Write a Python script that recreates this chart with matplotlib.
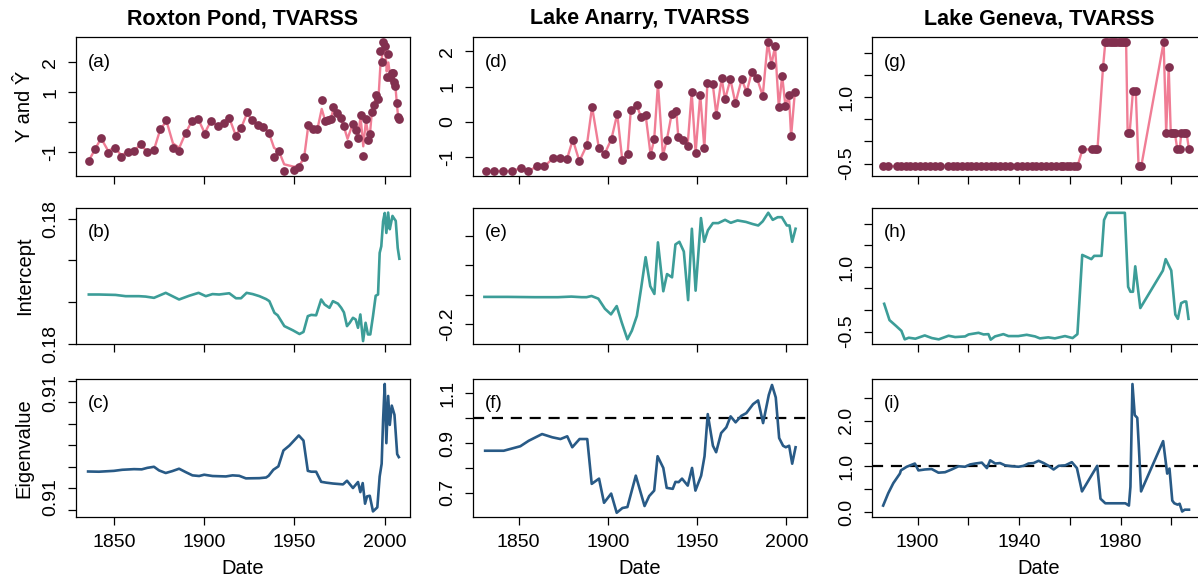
import matplotlib
matplotlib.use('Agg')
import matplotlib.pyplot as plt

plt.rcParams['font.family'] = ['Liberation Sans', 'DejaVu Sans']

PINK = '#f07d95'
MAROON = '#82304f'
TEAL = '#3c9d98'
BLUE = '#285a86'

# ---------------- Roxton Pond ----------------
roxton_years = [1836.1, 1839.6, 1842.9, 1846.8, 1850.4, 1854.1, 1857.6, 1861.1, 1864.9, 1868.4,
                1872.1, 1875.6, 1879.1, 1882.7, 1886.2, 1889.7, 1893.3, 1896.8, 1900.3, 1903.8,
                1907.4, 1910.7, 1914.0, 1917.4, 1920.4, 1923.7, 1926.5, 1929.6, 1932.8, 1935.8,
                1938.7, 1941.3, 1944.3, 1949.7, 1952.5, 1955.3, 1957.7, 1960.1, 1962.7, 1965.1,
                1967.0, 1968.6, 1970.1, 1971.6, 1973.8, 1975.7, 1977.3, 1979.4, 1982.2, 1984.0,
                1985.3, 1986.6, 1988.1, 1989.6, 1990.7, 1991.8, 1992.9, 1994.1, 1995.2, 1996.5,
                1997.6, 1998.5, 1999.3, 2000.4, 2001.1, 2002.0, 2003.0, 2003.9, 2004.8, 2005.2,
                2005.9, 2006.7, 2007.4, 2008.0]
roxton_y = [-1.28, -0.89, -0.53, -1.02, -0.84, -1.14, -0.98, -0.94, -0.72, -1.00,
            -0.93, -0.23, 0.08, -0.84, -0.96, -0.36, 0.06, 0.11, -0.39, 0.06,
            -0.11, -0.02, 0.14, -0.44, -0.20, 0.33, 0.08, -0.09, -0.14, -0.34,
            -1.14, -0.96, -1.62, -1.59, -1.48, -1.17, -0.09, -0.23, -0.23, 0.75,
            0.06, 0.08, 0.10, 0.52, 0.30, 0.14, -0.13, -0.72, -0.06, -0.25,
            -0.53, 0.23, -1.12, 0.10, -0.59, -0.40, 0.36, 0.59, 0.91, 0.77,
            2.37, 2.00, 2.67, 2.56, 1.52, 2.29, 1.52, 1.64, 1.64, 1.36,
            1.22, 0.64, 0.19, 0.11]
roxton_yhat = [-1.28, -0.89, -0.53, -0.95, -0.84, -1.10, -0.98, -0.94, -0.74, -0.98,
               -0.93, -0.25, 0.05, -0.70, -0.85, -0.36, 0.06, 0.10, -0.36, 0.06,
               -0.11, -0.02, 0.13, -0.42, -0.20, 0.30, 0.08, -0.09, -0.14, -0.34,
               -0.85, -0.95, -1.40, -1.48, -1.45, -1.20, -0.09, -0.23, -0.23, 0.45,
               0.06, 0.08, 0.10, 0.45, 0.30, 0.14, -0.13, -0.55, -0.06, -0.25,
               -0.45, 0.20, -0.80, 0.05, -0.35, -0.40, 0.36, 0.59, 0.91, 0.77,
               1.90, 2.20, 2.45, 2.40, 1.70, 2.00, 1.55, 1.64, 1.60, 1.36,
               1.22, 0.64, 0.19, 0.11]

roxton_int_years = [1836.1, 1841.7, 1850.9, 1856.5, 1863.9, 1867.6, 1872.2, 1878.7, 1886.1, 1891.7,
                    1896.9, 1900.9, 1904.6, 1908.3, 1913.9, 1917.6, 1920.4, 1923.5, 1926.9, 1930.6,
                    1934.3, 1936.1, 1938.9, 1940.7, 1944.4, 1949.1, 1952.8, 1955.0, 1957.4, 1959.3,
                    1962.0, 1964.8, 1966.7, 1969.4, 1971.3, 1974.1, 1975.9, 1977.4, 1979.1, 1980.6,
                    1982.4, 1983.9, 1985.2, 1986.5, 1988.0, 1989.4, 1990.7, 1992.0, 1993.5, 1995.0,
                    1996.3, 1997.2, 1998.1, 1999.1, 2000.0, 2000.9, 2001.9, 2002.8, 2003.5, 2004.3,
                    2005.0, 2006.1, 2007.2, 2008.1]
roxton_int = [0.18118, 0.18118, 0.18117, 0.18114, 0.18114, 0.18113, 0.18110, 0.18122, 0.18106, 0.18115,
              0.18122, 0.18114, 0.18119, 0.18118, 0.18121, 0.18109, 0.18109, 0.18122, 0.18119, 0.18114,
              0.18107, 0.18102, 0.18074, 0.18068, 0.18042, 0.18032, 0.18023, 0.18028, 0.18066, 0.18069,
              0.18068, 0.18106, 0.18094, 0.18086, 0.18102, 0.18096, 0.18086, 0.18075, 0.18042, 0.18050,
              0.18062, 0.18058, 0.18038, 0.18070, 0.18006, 0.18050, 0.18022, 0.18022, 0.18066, 0.18115,
              0.18118, 0.18218, 0.18234, 0.18294, 0.18314, 0.18266, 0.18315, 0.18275, 0.18290, 0.18307,
              0.18302, 0.18295, 0.18230, 0.18204]

roxton_eig_years = [1835.7, 1841.7, 1850.0, 1854.6, 1861.1, 1865.4, 1868.5, 1872.2, 1875.0, 1878.7,
                    1882.4, 1886.1, 1889.8, 1893.5, 1897.2, 1900.0, 1904.6, 1912.0, 1915.7, 1919.4,
                    1923.1, 1930.6, 1934.3, 1935.7, 1938.3, 1941.1, 1943.9, 1947.2, 1952.4, 1955.0,
                    1957.4, 1959.3, 1962.0, 1964.8, 1967.6, 1971.3, 1976.9, 1979.1, 1982.4, 1985.2,
                    1986.5, 1987.8, 1989.1, 1990.2, 1991.7, 1993.5, 1995.9, 1997.2, 1998.3, 1999.1,
                    2000.0, 2000.9, 2001.9, 2002.8, 2003.9, 2005.4, 2006.9, 2007.8]
roxton_eig = [0.91178, 0.91177, 0.91181, 0.91186, 0.91189, 0.91188, 0.91195, 0.91200, 0.91183, 0.91171,
              0.91180, 0.91191, 0.91175, 0.91160, 0.91157, 0.91163, 0.91157, 0.91155, 0.91160, 0.91158,
              0.91146, 0.91147, 0.91150, 0.91158, 0.91186, 0.91202, 0.91276, 0.91299, 0.91346, 0.91322,
              0.91181, 0.91177, 0.91177, 0.91130, 0.91126, 0.91122, 0.91118, 0.91135, 0.91101, 0.91129,
              0.91082, 0.91124, 0.91028, 0.91062, 0.91065, 0.90992, 0.91011, 0.91155, 0.91214, 0.91419,
              0.91586, 0.91310, 0.91530, 0.91395, 0.91485, 0.91442, 0.91259, 0.91245]

# ---------------- Lake Anarry ----------------
anarry_years = [1831.5, 1836.3, 1841.2, 1846.1, 1851.1, 1855.2, 1860.3, 1864.4, 1869.1, 1873.2,
                1877.1, 1880.3, 1884.0, 1888.2, 1891.1, 1894.9, 1898.1, 1902.0, 1905.2, 1908.0,
                1911.0, 1912.8, 1916.0, 1918.6, 1921.1, 1923.9, 1925.9, 1928.0, 1930.8, 1933.0,
                1935.7, 1938.3, 1939.4, 1942.0, 1944.6, 1946.9, 1949.1, 1951.7, 1954.0, 1955.7,
                1958.7, 1960.7, 1963.7, 1965.6, 1968.6, 1971.4, 1974.9, 1977.7, 1980.5, 1983.5,
                1986.7, 1989.5, 1991.6, 1993.6, 1995.7, 1997.6, 1999.4, 2001.4, 2002.6, 2004.7]
anarry_y = [-1.40, -1.39, -1.39, -1.39, -1.31, -1.39, -1.26, -1.26, -1.03, -1.03,
            -1.04, -0.50, -1.11, -0.65, 0.43, -0.73, -0.91, -0.47, 0.23, -1.07,
            -0.91, 0.34, 0.49, 0.13, 0.20, -0.93, -0.49, 1.09, -0.95, -0.50,
            0.23, 0.30, -0.42, -0.50, -0.68, 0.84, -0.87, 0.77, -0.74, 1.11,
            1.08, 0.21, 1.24, 0.64, 1.21, 0.53, 1.21, 0.85, 1.41, 1.24,
            0.74, 2.27, 1.63, 2.15, 0.43, 1.31, 0.46, 0.76, -0.40, 0.85]

anarry_int_years = [1830.8, 1843.8, 1858.8, 1872.0, 1879.5, 1885.2, 1888.0, 1890.8, 1894.6, 1898.3,
                    1901.7, 1904.9, 1907.7, 1910.9, 1913.4, 1916.2, 1918.6, 1921.1, 1923.7, 1926.0,
                    1928.0, 1931.0, 1933.1, 1935.9, 1937.8, 1940.0, 1942.5, 1944.9, 1947.0, 1949.1,
                    1952.1, 1953.9, 1956.0, 1958.8, 1961.8, 1965.6, 1968.8, 1972.6, 1977.3, 1981.0,
                    1984.2, 1986.7, 1989.8, 1992.3, 1995.1, 1997.4, 2000.2, 2001.7, 2003.2, 2005.1]
anarry_int = [-0.107, -0.107, -0.108, -0.108, -0.106, -0.108, -0.108, -0.104, -0.113, -0.147,
              -0.166, -0.138, -0.193, -0.250, -0.221, -0.171, -0.077, 0.027, -0.071, -0.097,
              0.077, -0.088, -0.030, -0.041, 0.070, 0.079, 0.046, -0.118, 0.123, -0.086,
              0.159, 0.079, 0.118, 0.142, 0.142, 0.153, 0.143, 0.151, 0.146, 0.139,
              0.134, 0.148, 0.177, 0.153, 0.162, 0.162, 0.134, 0.134, 0.079, 0.123]

anarry_eig_years = [1831.2, 1841.6, 1850.9, 1855.6, 1863.1, 1868.8, 1873.4, 1877.2, 1880.0, 1884.1,
                    1888.4, 1890.9, 1895.0, 1897.8, 1901.8, 1904.9, 1908.1, 1910.9, 1915.6, 1920.5,
                    1923.1, 1925.9, 1927.8, 1931.0, 1932.9, 1936.3, 1937.8, 1939.6, 1941.5, 1944.7,
                    1947.1, 1949.0, 1952.2, 1954.1, 1955.9, 1958.8, 1960.6, 1963.4, 1966.3, 1968.7,
                    1971.5, 1974.7, 1977.5, 1981.3, 1984.1, 1986.9, 1990.1, 1991.9, 1994.0, 1995.9,
                    1998.1, 1999.6, 2001.5, 2003.2, 2005.1]
anarry_eig = [0.869, 0.869, 0.887, 0.909, 0.936, 0.923, 0.916, 0.927, 0.883, 0.916,
              0.916, 0.736, 0.757, 0.660, 0.697, 0.620, 0.639, 0.643, 0.769, 0.647,
              0.687, 0.709, 0.847, 0.800, 0.720, 0.716, 0.744, 0.743, 0.757, 0.729,
              0.800, 0.709, 0.769, 0.847, 1.016, 0.889, 0.863, 0.940, 0.963, 1.007,
              0.983, 1.009, 1.020, 1.056, 1.071, 0.980, 1.093, 1.133, 1.083, 0.920,
              0.889, 0.883, 0.889, 0.817, 0.883]

# ---------------- Lake Geneva ----------------
geneva_years = [1886.5, 1888.5, 1892.0, 1893.5, 1895.5, 1897.0, 1899.0, 1901.0, 1903.0, 1905.0,
                1907.0, 1909.0, 1912.0, 1914.0, 1915.5, 1917.5, 1919.5, 1921.0, 1923.0, 1925.0,
                1927.0, 1929.0, 1930.5, 1932.5, 1934.5, 1936.5, 1939.0, 1941.0, 1943.0, 1945.0,
                1946.5, 1948.5, 1950.5, 1952.5, 1954.5, 1956.5, 1957.5, 1959.0, 1960.0, 1961.5,
                1963.0, 1965.0, 1968.8, 1969.8, 1970.9, 1973.1, 1974.0, 1974.8, 1975.7, 1976.6,
                1977.4, 1978.3, 1979.2, 1980.0, 1980.9, 1981.6, 1982.2, 1982.8, 1983.6, 1984.9,
                1986.0, 1987.1, 1988.2, 1997.0, 1998.0, 1999.0, 1999.8, 2000.6, 2001.4, 2002.4,
                2003.3, 2004.0, 2005.0, 2006.0, 2007.0]
geneva_y = [-0.56, -0.56, -0.56, -0.56, -0.56, -0.56, -0.56, -0.56, -0.56, -0.56,
            -0.56, -0.56, -0.56, -0.56, -0.56, -0.56, -0.56, -0.56, -0.56, -0.56,
            -0.56, -0.56, -0.56, -0.56, -0.56, -0.56, -0.56, -0.56, -0.56, -0.56,
            -0.56, -0.56, -0.56, -0.56, -0.56, -0.56, -0.56, -0.56, -0.56, -0.56,
            -0.56, -0.18, -0.18, -0.18, -0.18, 1.68, 2.24, 2.24, 2.24, 2.24,
            2.24, 2.24, 2.24, 2.24, 2.24, 2.24, 2.24, 0.20, 0.20, 1.14,
            1.14, -0.55, -0.55, 2.24, 0.20, 1.68, 0.20, 0.20, 0.20, -0.18,
            -0.18, 0.20, 0.20, 0.20, -0.18]

geneva_int_years = [1886.8, 1888.9, 1891.5, 1893.6, 1894.9, 1896.5, 1899.1, 1902.8, 1905.6, 1908.3,
                    1912.2, 1914.8, 1918.7, 1920.1, 1924.0, 1926.0, 1927.9, 1928.8, 1930.5, 1933.8,
                    1935.8, 1939.7, 1943.0, 1946.3, 1948.2, 1951.5, 1954.1, 1958.1, 1961.1, 1963.0,
                    1964.9, 1968.5, 1969.6, 1972.5, 1973.5, 1974.8, 1981.7, 1983.0, 1983.9, 1984.9,
                    1985.8, 1987.8, 1996.7, 1997.8, 2000.0, 2001.6, 2002.6, 2003.9, 2005.2, 2005.9,
                    2006.8]
geneva_int = [0.144, -0.235, -0.371, -0.485, -0.682, -0.644, -0.667, -0.591, -0.652, -0.682,
              -0.598, -0.629, -0.614, -0.568, -0.530, -0.568, -0.561, -0.689, -0.614, -0.561,
              -0.606, -0.606, -0.576, -0.614, -0.659, -0.636, -0.659, -0.606, -0.652, -0.561,
              1.280, 1.182, 1.258, 1.258, 2.091, 2.258, 2.258, 0.538, 0.424, 0.424,
              1.015, 0.045, 0.917, 1.182, 0.917, -0.106, -0.205, 0.159, 0.197, 0.197,
              -0.205]

geneva_eig_years = [1886.4, 1888.4, 1890.4, 1893.0, 1893.4, 1895.7, 1898.9, 1900.3, 1902.9, 1905.5,
                    1908.2, 1910.8, 1913.4, 1916.1, 1918.7, 1920.7, 1922.7, 1925.3, 1927.3, 1928.6,
                    1930.6, 1932.5, 1934.5, 1937.2, 1939.8, 1941.8, 1943.7, 1945.7, 1947.7, 1949.7,
                    1951.6, 1953.6, 1955.6, 1958.2, 1960.8, 1962.8, 1964.8, 1970.8, 1972.1, 1974.0,
                    1976.7, 1979.3, 1981.9, 1983.3, 1983.9, 1984.7, 1985.6, 1986.6, 1987.2, 1988.1,
                    1996.8, 1998.4, 1999.3, 2000.4, 2001.2, 2002.5, 2003.3, 2004.3, 2005.3, 2007.0]
geneva_eig = [0.14, 0.41, 0.63, 0.84, 0.91, 0.99, 1.06, 0.91, 0.93, 0.94,
              0.86, 0.87, 0.93, 1.00, 0.99, 1.04, 1.06, 1.08, 0.96, 1.13,
              1.06, 1.07, 1.02, 1.00, 0.99, 1.01, 1.06, 1.07, 1.12, 1.07,
              1.01, 0.93, 1.01, 1.02, 1.09, 0.96, 0.45, 1.01, 0.29, 0.19,
              0.19, 0.19, 0.19, 0.14, 0.55, 2.80, 2.12, 2.06, 1.45, 0.45,
              1.55, 0.84, 0.95, 0.25, 0.19, 0.16, 0.18, 0.01, 0.05, 0.05]

titles = ['Roxton Pond, TVARSS', 'Lake Anarry, TVARSS', 'Lake Geneva, TVARSS']
row_labels = ['Y and Ŷ', 'Intercept', 'Eigenvalue']
letters = [['(a)', '(b)', '(c)'], ['(d)', '(e)', '(f)'], ['(g)', '(h)', '(i)']]

W, H = 1198, 583
fig = plt.figure(figsize=(W / 100, H / 100), dpi=100)

col_left = [76, 473, 872]
col_w = 334
rows = [(37, 176), (208, 344), (379, 517)]
xlims = [(1829, 2014), (1824.4, 2011.5), (1882, 2013.7)]
xticks = [[1850, 1900, 1950, 2000], [1850, 1900, 1950, 2000],
          [1900, 1920, 1940, 1960, 1980, 2000]]
xticklabels = [['1850', '1900', '1950', '2000'], ['1850', '1900', '1950', '2000'],
               ['1900', '', '1940', '', '1980', '']]

axes = [[None] * 3 for _ in range(3)]
for c in range(3):
    for r in range(3):
        top, bot = rows[r]
        ax = fig.add_axes([col_left[c] / W, 1 - bot / H, col_w / W, (bot - top) / H])
        axes[c][r] = ax
        ax.set_xlim(*xlims[c])
        ax.set_xticks(xticks[c])
        ax.set_xticklabels(xticklabels[c] if r == 2 else [''] * len(xticks[c]))
        ax.tick_params(direction='out', length=6, width=0.9, labelsize=14, pad=6)
        for s in ax.spines.values():
            s.set_linewidth(0.9)
        ax.text(0.035, 0.82, letters[c][r], transform=ax.transAxes, fontsize=13.5,
                ha='left', va='center')
        if r == 2:
            ax.set_xlabel('Date', fontsize=14.5, va='center')
            ax.xaxis.set_label_coords(0.5, -0.37)
        if c == 0:
            ax.set_ylabel(row_labels[r], fontsize=14.5, va='center')
            ax.yaxis.set_label_coords(-0.155, 0.5)
    axes[c][0].set_title(titles[c], fontweight='bold', fontsize=15.5, pad=9)

# Y and fitted values
for ax, yrs, y, yhat in [(axes[0][0], roxton_years, roxton_y, roxton_yhat),
                         (axes[1][0], anarry_years, anarry_y, anarry_y),
                         (axes[2][0], geneva_years, geneva_y, geneva_y)]:
    ax.plot(yrs, yhat, color=PINK, lw=1.7, zorder=2)
    ax.plot(yrs, y, 'o', color=MAROON, ms=6.3, mec='none', zorder=3)

# intercepts
axes[0][1].plot(roxton_int_years, roxton_int, color=TEAL, lw=1.9)
axes[1][1].plot(anarry_int_years, anarry_int, color=TEAL, lw=1.9)
axes[2][1].plot(geneva_int_years, geneva_int, color=TEAL, lw=1.9)

# eigenvalues
axes[0][2].plot(roxton_eig_years, roxton_eig, color=BLUE, lw=1.9)
axes[1][2].plot(anarry_eig_years, anarry_eig, color=BLUE, lw=1.9)
axes[2][2].plot(geneva_eig_years, geneva_eig, color=BLUE, lw=1.9)
for ax in (axes[1][2], axes[2][2]):
    ax.axhline(1.0, color='black', lw=1.6, ls=(0, (5, 3.5)), zorder=1)

# y axes
yspec = {
    (0, 0): ((-1.79, 2.85), [-1, 0, 1, 2], ['-1', '', '1', '2']),
    (0, 1): ((0.17999, 0.18326), [0.180, 0.181, 0.182, 0.183], ['0.18', '', '', '0.18']),
    (0, 2): ((0.90966, 0.91609), [0.910, 0.911, 0.912, 0.913, 0.914, 0.915, 0.916], [''] * 7),
    (1, 0): ((-1.53, 2.41), [-1, 0, 1, 2], ['-1', '0', '1', '2']),
    (1, 1): ((-0.266, 0.193), [-0.2, -0.1, 0.0, 0.1], ['-0.2', '', '', '']),
    (1, 2): ((0.603, 1.157), [0.7, 0.8, 0.9, 1.0, 1.1], ['0.7', '', '0.9', '', '1.1']),
    (2, 0): ((-0.78, 2.36), [-0.5, 0, 0.5, 1.0, 1.5, 2.0], ['-0.5', '', '', '1.0', '', '']),
    (2, 1): ((-0.79, 2.37), [-0.5, 0, 0.5, 1.0, 1.5, 2.0], ['-0.5', '', '', '1.0', '', '']),
    (2, 2): ((-0.11, 2.91), [0, 0.5, 1.0, 1.5, 2.0, 2.5], ['0.0', '', '1.0', '', '2.0', '']),
}
for (c, r), (lim, ticks, labels) in yspec.items():
    ax = axes[c][r]
    ax.set_ylim(*lim)
    ax.set_yticks(ticks)
    ax.set_yticklabels(labels)

# eigenvalue labels of Roxton Pond sit between the tick marks
ax = axes[0][2]
ax.set_yticks([0.9106, 0.91545], minor=True)
ax.set_yticklabels(['0.91', '0.91'], minor=True)
ax.tick_params(axis='y', which='minor', length=0, pad=12, labelsize=14)

for c in range(3):
    for r in range(3):
        ax = axes[c][r]
        ax.tick_params(axis='y', which='both', labelrotation=90)
        for lab in ax.get_yticklabels() + ax.get_yticklabels(minor=True):
            lab.set_va('center')

fig.savefig('out.png', dpi=100)
